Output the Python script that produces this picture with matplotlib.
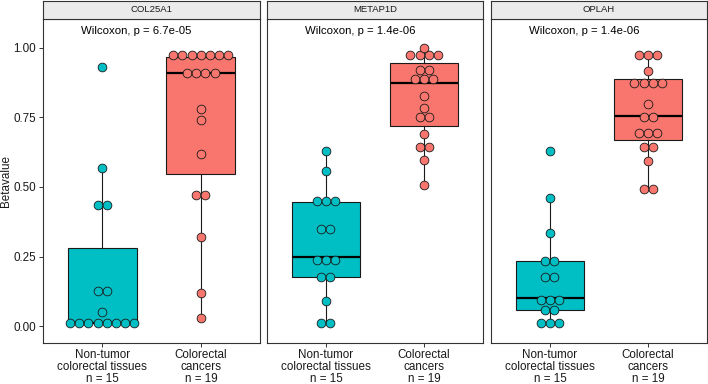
import matplotlib
matplotlib.use("Agg")
import matplotlib.pyplot as plt

plt.rcParams['font.family'] = ['Liberation Sans', 'DejaVu Sans']

# data
genes = ["COL25A1", "METAP1D", "OPLAH"]
groups = ["Non-tumor\ncolorectal tissues", "Colorectal\ncancers"]
pvals = ["6.7e-05", "1.4e-06", "1.4e-06"]

col25a1_normal = [0.01, 0.01, 0.01, 0.01, 0.01, 0.01, 0.01, 0.01, 0.05, 0.12, 0.13, 0.43, 0.44, 0.57, 0.93]
col25a1_cancer = [0.03, 0.12, 0.32, 0.465, 0.475, 0.62, 0.74, 0.78, 0.905, 0.91, 0.91, 0.915,
                  0.96, 0.965, 0.97, 0.975, 0.98, 0.985, 0.99]
metap1d_normal = [0.01, 0.01, 0.09, 0.17, 0.18, 0.225, 0.235, 0.25, 0.345, 0.35, 0.445, 0.45, 0.455, 0.559, 0.631]
metap1d_cancer = [0.506, 0.597, 0.64, 0.645, 0.69, 0.75, 0.755, 0.785, 0.828, 0.875, 0.895, 0.905,
                  0.91, 0.93, 0.96, 0.97, 0.98, 0.99, 1.0]
oplah_normal = [0.01, 0.01, 0.01, 0.055, 0.06, 0.09, 0.095, 0.1, 0.17, 0.18, 0.23, 0.24, 0.336, 0.459, 0.63]
oplah_cancer = [0.49, 0.495, 0.595, 0.64, 0.645, 0.69, 0.695, 0.70, 0.745, 0.755, 0.80, 0.86, 0.87,
                0.89, 0.89, 0.917, 0.97, 0.975, 0.98]

normal = [col25a1_normal, metap1d_normal, oplah_normal]
cancer = [col25a1_cancer, metap1d_cancer, oplah_cancer]

colors = ["#00BFC4", "#F8766D"]
binwidth = 0.033
W, H = 708, 384
ylim = (-0.061, 1.104)
xlim = (0.4, 2.6)
panel_x = [(43, 260), (267, 483), (491, 707)]
strip_top, plot_top, plot_bottom = 1, 19, 343
edge = "#333333"


def dot_bins(vals, bw):
    # same greedy binning as ggplot's dotdensity
    bins = []
    start = None
    for v in sorted(vals):
        if start is None or v >= start + bw:
            bins.append([v])
            start = v
        else:
            bins[-1].append(v)
    return [((b[0] + b[-1]) / 2, len(b)) for b in bins]


def px_axes(fig, x0, y0, x1, y1):
    return fig.add_axes([x0 / W, 1 - y1 / H, (x1 - x0) / W, (y1 - y0) / H])


fig = plt.figure(figsize=(W / 100, H / 100), dpi=100)

for i, gene in enumerate(genes):
    x0, x1 = panel_x[i]
    ax = px_axes(fig, x0, plot_top, x1, plot_bottom)
    ax.set_xlim(*xlim)
    ax.set_ylim(*ylim)

    data = [normal[i], cancer[i]]
    bp = ax.boxplot(data, positions=[1, 2], widths=0.7, patch_artist=True,
                    showfliers=False, showcaps=False, whis=1.5,
                    boxprops=dict(edgecolor="#1a1a1a", linewidth=0.8),
                    whiskerprops=dict(color="#1a1a1a", linewidth=0.8),
                    medianprops=dict(color="black", linewidth=1.6), zorder=1)
    for patch, c in zip(bp['boxes'], colors):
        patch.set_facecolor(c)

    # dot size in pixels from binwidth
    d_px = binwidth * (plot_bottom - plot_top) / (ylim[1] - ylim[0])
    d_x = d_px * (xlim[1] - xlim[0]) / (x1 - x0)
    d_pt = d_px * 72 / 100
    for g, vals in enumerate(data):
        xs, ys = [], []
        for center, n in dot_bins(vals, binwidth):
            for k in range(n):
                xs.append(g + 1 + (k - (n - 1) / 2) * d_x)
                ys.append(center)
        ax.scatter(xs, ys, s=(d_pt * 0.95) ** 2, color=colors[g], edgecolor="#1a1a1a",
                   linewidth=0.6, zorder=3, clip_on=False)

    ax.text(0.79, 1.062, f"Wilcoxon, p = {pvals[i]}", ha="left", va="center",
            fontsize=8.2, color="black")

    ax.set_xticks([1, 2])
    ax.set_xticklabels([f"{grp}\nn = {len(d)}" for grp, d in zip(groups, data)],
                       fontsize=8.4, linespacing=1.05, color="#1a1a1a")
    ax.set_yticks([0, 0.25, 0.5, 0.75, 1.0])
    if i == 0:
        ax.set_yticklabels([f"{t:.2f}" for t in [0, 0.25, 0.5, 0.75, 1.0]],
                           fontsize=8.4, color="#1a1a1a")
        ax.tick_params(axis="y", length=3, width=0.7, color=edge, pad=2)
    else:
        ax.tick_params(axis="y", length=0, labelleft=False)
    ax.tick_params(axis="x", length=3, width=0.7, color=edge, pad=1.0)
    for sp in ax.spines.values():
        sp.set_color(edge)
        sp.set_linewidth(0.8)

    strip = px_axes(fig, x0, strip_top, x1, plot_top)
    strip.set_facecolor("#EBEBEB")
    strip.set_xticks([])
    strip.set_yticks([])
    for sp in strip.spines.values():
        sp.set_color(edge)
        sp.set_linewidth(0.8)
    strip.text(0.5, 0.5, gene, ha="center", va="center", fontsize=6.8,
               color="#1a1a1a", transform=strip.transAxes)

fig.text(6 / W, 1 - (plot_top + plot_bottom) / 2 / H, "Betavalue", rotation=90,
         ha="center", va="center", fontsize=8.4, color="#1a1a1a")

fig.savefig("out.png", dpi=100)
